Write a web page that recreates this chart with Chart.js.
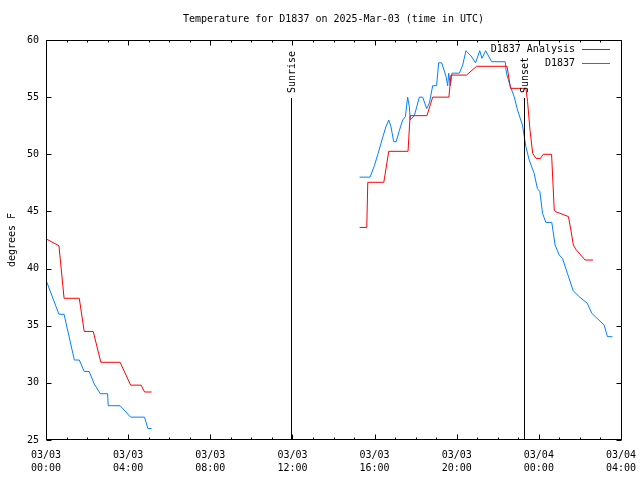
<!DOCTYPE html>
<html>
<head>
<meta charset="utf-8">
<script src="https://cdn.jsdelivr.net/npm/chart.js@4/dist/chart.umd.min.js"></script>
<style>
  html, body { margin: 0; background: #fff; }
</style>
</head>
<body>
<canvas id="temp-chart" width="640" height="480"></canvas>
<script>
// hours since 03/03 00:00 UTC; null temp breaks the line
const analysisHours = [0, 0.63, 0.88, 1.62, 1.86, 2.3, 2.67, 3.61, 4.12, 4.63, 4.8, 5.14,
  10,
  15.27, 15.62, 15.67, 16.45, 16.69, 17.63, 17.73, 18.55, 18.83, 19.62, 19.72, 20.48,
  20.97, 22.45, 22.62, 23.37, 23.45, 23.57, 23.7, 23.86, 24.08, 24.21, 24.62, 24.75,
  24.83, 25.44, 25.56, 25.68, 25.8, 26.25, 26.64];
const analysisTemps = [42.6, 42.0, 37.4, 37.4, 34.5, 34.5, 31.8, 31.8, 29.8, 29.8, 29.2, 29.2,
  null,
  43.6, 43.6, 47.55, 47.55, 50.26, 50.26, 53.38, 53.38, 55.0, 55.0, 56.93, 56.93,
  57.7, 57.7, 55.77, 55.77, 54.6, 52.1, 50.08, 49.64, 49.64, 50.0, 50.0, 45.1,
  44.97, 44.55, 43.37, 42.06, 41.68, 40.75, 40.75];

const obsHours = [0, 0.63, 0.88, 1.38, 1.62, 1.86, 2.1, 2.35, 2.64, 3.0, 3.03, 3.61, 4.12, 4.8, 4.96, 5.14,
  10,
  15.27, 15.78, 15.99, 16.16, 16.4, 16.55, 16.69, 16.8, 16.93, 17.05, 17.21, 17.37, 17.5,
  17.61, 17.69, 17.74, 17.94, 18.18, 18.34, 18.54, 18.67, 18.83, 19.02, 19.12, 19.27,
  19.48, 19.56, 19.61, 19.69, 19.77, 20.13, 20.29, 20.45, 20.7, 20.92, 21.12, 21.23,
  21.41, 21.7, 22.36, 22.42, 22.59, 22.8, 22.96, 23.2, 23.37, 23.53, 23.77, 23.93,
  24.05, 24.18, 24.34, 24.63, 24.79, 24.99, 25.15, 25.39, 25.67, 25.96, 26.36, 26.58,
  27.18, 27.34, 27.58];
const obsTemps = [39.0, 36.0, 36.0, 32.0, 32.0, 31.0, 31.0, 29.9, 29.05, 29.05, 28.0, 28.0, 27.0, 27.0, 26.0, 26.0,
  null,
  48.0, 48.0, 49.0, 50.0, 51.5, 52.4, 53.0, 52.4, 51.1, 51.1, 52.1, 53.0, 53.3,
  55.0, 54.2, 53.0, 53.4, 55.0, 55.0, 54.0, 54.5, 56.0, 56.0, 58.0, 58.0,
  56.8, 56.0, 57.1, 56.0, 57.1, 57.1, 57.8, 59.06, 58.6, 58.0, 59.06, 58.4,
  59.06, 58.1, 58.1, 57.1, 56.06, 55.03, 53.87, 52.56, 50.66, 49.5, 48.33, 47.0,
  46.73, 44.83, 44.04, 44.04, 42.06, 41.19, 40.9, 39.58, 38.07, 37.54, 36.96, 36.08,
  35.06, 34.04, 34.04];

const tickHours = [0, 4, 8, 12, 16, 20, 24, 28];
const tickDates = ["03/03", "03/03", "03/03", "03/03", "03/03", "03/03", "03/04", "03/04"];
const tickTimes = ["00:00", "04:00", "08:00", "12:00", "16:00", "20:00", "00:00", "04:00"];

const sunLabels = ["Sunrise", "Sunset"];
const sunHours = [11.95, 23.28];

const FONT = "DejaVu Sans Mono";
const chartTitle = "Temperature for D1837 on 2025-Mar-03 (time in UTC)";

function toPoints(xs, ys) {
  return xs.map((h, i) => ({ x: h, y: ys[i] }));
}

// gnuplot-ish frame: border, inward ticks, sun lines, legend, title
const gnuFrame = {
  id: "gnuFrame",
  afterDatasetsDraw(chart) {
    const { ctx, chartArea: a, scales: { x, y } } = chart;
    const L = Math.round(a.left) + 0.5, R = Math.round(a.right) + 0.5;
    const T = Math.round(a.top) + 0.5, B = Math.round(a.bottom) - 0.5;
    ctx.save();
    ctx.strokeStyle = "#000";
    ctx.lineWidth = 1;
    ctx.strokeRect(L, T, R - L, B - T);

    ctx.beginPath();
    for (let h = 0; h <= 28; h++) {
      const px = Math.round(x.getPixelForValue(h)) + 0.5;
      const len = h % 4 === 0 ? 5 : 2;
      ctx.moveTo(px, B); ctx.lineTo(px, B - len);
      ctx.moveTo(px, T); ctx.lineTo(px, T + len);
    }
    for (let v = 25; v <= 60; v += 5) {
      const py = Math.round(y.getPixelForValue(v)) + 0.5;
      ctx.moveTo(L, py); ctx.lineTo(L + 5, py);
      ctx.moveTo(R, py); ctx.lineTo(R - 5, py);
    }
    ctx.stroke();

    ctx.font = "10px '" + FONT + "'";
    ctx.fillStyle = "#000";
    sunHours.forEach((h, i) => {
      const px = Math.round(x.getPixelForValue(h)) + 0.5;
      ctx.beginPath();
      ctx.moveTo(px, a.top + 58);
      ctx.lineTo(px, B);
      ctx.stroke();
      ctx.save();
      ctx.translate(px + 1, a.top + 53);
      ctx.rotate(-Math.PI / 2);
      ctx.textAlign = "left";
      ctx.textBaseline = "middle";
      ctx.fillText(sunLabels[i], 0, 0);
      ctx.restore();
    });

    // legend
    ctx.textAlign = "right";
    ctx.textBaseline = "middle";
    chart.data.datasets.forEach((ds, i) => {
      const ly = Math.round(a.top + 9 + i * 14) + 0.5;
      ctx.fillStyle = "#000";
      ctx.fillText(ds.label, a.right - 46, ly);
      ctx.strokeStyle = ds.borderColor;
      ctx.beginPath();
      ctx.moveTo(a.right - 39, ly);
      ctx.lineTo(a.right - 11, ly);
      ctx.stroke();
    });

    ctx.fillStyle = "#000";
    ctx.textAlign = "center";
    ctx.fillText(chartTitle, (a.left + a.right) / 2, 19);
    ctx.restore();
  },
};

const ctx = document.getElementById("temp-chart").getContext("2d");
new Chart(ctx, {
  type: "line",
  data: {
    datasets: [
      {
        label: "D1837 Analysis",
        data: toPoints(analysisHours, analysisTemps),
        borderColor: "#ff0000",
        borderWidth: 1,
        pointRadius: 0,
        tension: 0,
      },
      {
        label: "D1837",
        data: toPoints(obsHours, obsTemps),
        borderColor: "#0080ff",
        borderWidth: 1,
        pointRadius: 0,
        tension: 0,
      },
    ],
  },
  options: {
    responsive: false,
    animation: false,
    devicePixelRatio: 1,
    layout: { padding: { top: 40, right: 19, left: 0, bottom: 0 } },
    plugins: {
      legend: { display: false },
      title: { display: false },
      tooltip: { enabled: false },
    },
    scales: {
      x: {
        type: "linear",
        min: 0,
        max: 28,
        grid: { display: false, drawTicks: false },
        border: { display: false },
        afterBuildTicks: (scale) => {
          scale.ticks = tickHours.map((v) => ({ value: v }));
        },
        afterFit: (scale) => {
          scale.height = 40;
          scale.paddingLeft = 15;
          scale.paddingRight = 15;
        },
        ticks: {
          autoSkip: false,
          maxRotation: 0,
          padding: 9,
          color: "#000",
          font: { family: FONT, size: 10, lineHeight: 1.3 },
          callback: (v, i) => [tickDates[i], tickTimes[i]],
        },
      },
      y: {
        min: 25,
        max: 60,
        grid: { display: false, drawTicks: false },
        border: { display: false },
        afterFit: (scale) => { scale.width = 46; },
        title: {
          display: true,
          text: "degrees F",
          color: "#000",
          padding: { top: 6, bottom: 0 },
          font: { family: FONT, size: 10 },
        },
        ticks: {
          stepSize: 5,
          padding: 7,
          color: "#000",
          font: { family: FONT, size: 10 },
        },
      },
    },
  },
  plugins: [gnuFrame],
});
</script>
</body>
</html>
